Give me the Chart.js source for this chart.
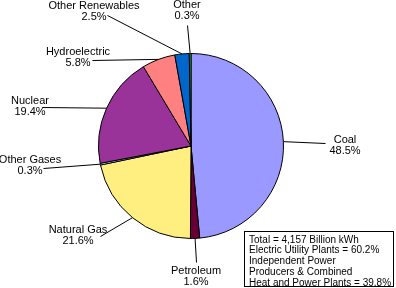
<!DOCTYPE html>
<html><head><meta charset="utf-8">
<script src="https://cdn.jsdelivr.net/npm/chart.js"></script>
<style>html,body{margin:0;padding:0;background:#fff;}#wrap{width:396px;height:288px;position:relative;}</style>
</head><body><div id="wrap"><canvas id="c" width="396" height="288"></canvas></div>
<script>
const categories = ["Coal","Petroleum","Natural Gas","Other Gases","Nuclear","Hydroelectric","Other Renewables","Other"];
const shares = [48.5,1.6,21.6,0.3,19.4,5.8,2.5,0.3];
const colors = ["#9999FF","#660033","#FFEE80","#CCFFFF","#993399","#FF8080","#0066CC","#33CC33"];
const noteLines = ["Total = 4,157 Billion kWh","Electric Utility Plants = 60.2%","Independent Power","Producers & Combined","Heat and Power Plants = 39.8%"];
// label layout: [textCenterX, firstLineY, lineStartX, lineStartY]
const labelLayout = [
  [345,140,325,143],
  [196,271,196,262],
  [78,230,100,236],
  [30,160,43,168],
  [30,101,42,107],
  [78,52,92,60],
  [94,6,107,15],
  [187,5,187,25]
];
const font = '11px "Liberation Sans", Arial, sans-serif';
const labelPlugin = {
  id:'labels',
  afterDraw(chart){
    const ctx = chart.ctx;
    const meta = chart.getDatasetMeta(0);
    ctx.save();
    ctx.font = font;
    ctx.fillStyle = '#000';
    ctx.strokeStyle = '#000';
    ctx.lineWidth = 1;
    ctx.textAlign = 'center';
    ctx.textBaseline = 'middle';
    meta.data.forEach((arc,i)=>{
      const p = arc.getProps(['x','y','startAngle','endAngle','outerRadius'],true);
      const mid = (p.startAngle+p.endAngle)/2;
      const ex = p.x + Math.cos(mid)*p.outerRadius;
      const ey = p.y + Math.sin(mid)*p.outerRadius;
      const L = labelLayout[i];
      ctx.beginPath();
      ctx.moveTo(L[2]+0.5,L[3]+0.5);
      ctx.lineTo(ex,ey);
      ctx.stroke();
      ctx.fillText(categories[i],L[0],L[1]);
      ctx.fillText(shares[i].toFixed(1)+'%',L[0],L[1]+10.5);
    });
    // note box
    ctx.strokeRect(244.5,231.5,149,55);
    ctx.textAlign='left';
    ctx.font = '10px "Liberation Sans", Arial, sans-serif';
    noteLines.forEach((t,k)=>ctx.fillText(t,249,240+k*10.7));
    ctx.restore();
  }
};
new Chart(document.getElementById('c'),{
  type:'pie',
  data:{labels:categories,datasets:[{data:shares,backgroundColor:colors,borderColor:'#000',borderWidth:1}]},
  options:{
    responsive:false,animation:false,
    layout:{padding:{left:98,right:112,top:53,bottom:49}},
    plugins:{legend:{display:false},tooltip:{enabled:false}}
  },
  plugins:[labelPlugin]
});
</script></body></html>
